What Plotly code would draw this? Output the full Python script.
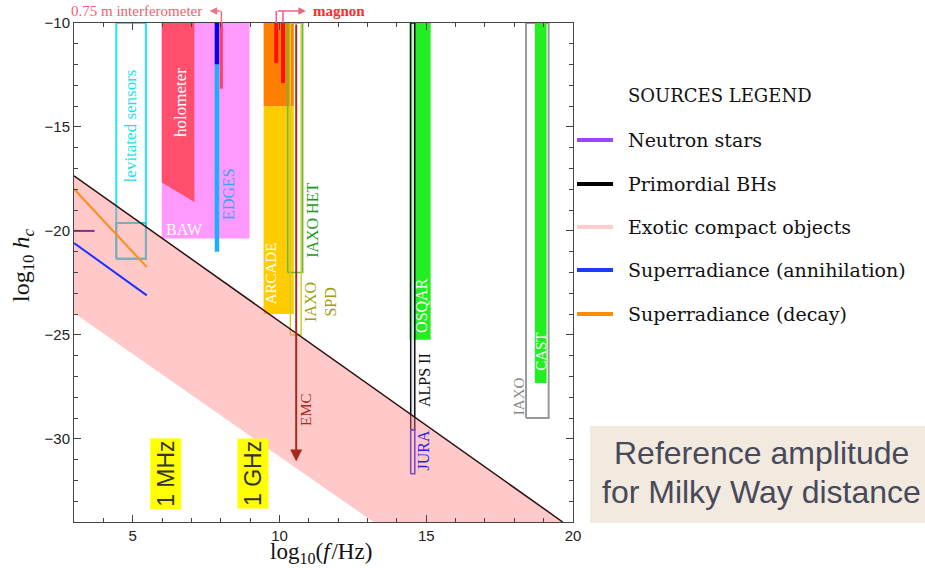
import plotly.graph_objects as go

# ---------------------------------------------------------------- data
# axes: log10(f/Hz) horizontally, log10(h_c) vertically
X_RANGE = [3, 20]
Y_RANGE = [-34, -10]
X_TICKS = [5, 10, 15, 20]
Y_TICKS = [-10, -15, -20, -25, -30]

# exotic compact objects band (upper and lower edges)
band_upper_x = [3.0, 19.65]
band_upper_y = [-17.35, -34.0]
band_lower_x = [3.0, 13.2]
band_lower_y = [-23.95, -34.0]

# source lines
sr_decay_x = [3.0, 5.48]
sr_decay_y = [-17.98, -21.74]
sr_annih_x = [3.0, 5.48]
sr_annih_y = [-20.58, -23.10]
ns_x = [3.0, 3.7]
ns_y = [-20.0, -20.0]

# filled detector regions
filled_names = ["BAW", "ARCADE", "ARCADE high", "OSQAR", "CAST"]
filled_x0 = [5.99, 9.46, 9.46, 14.43, 18.70]
filled_x1 = [8.98, 10.49, 10.49, 15.15, 19.10]
filled_ylo = [-20.37, -24.00, -14.01, -25.23, -27.32]
filled_yhi = [-10.0, -14.01, -10.0, -10.0, -10.0]

# holometer (slanted lower edge)
holo_x = [5.99, 7.10]
holo_ylo = [-17.67, -18.61]
holo_yhi = -10.0

# outlined detector regions
outl_names = ["levitated", "levitated low", "IAXO HET", "IAXO SPD", "ALPS II", "JURA", "IAXO"]
outl_x0 = [4.44, 4.44, 10.28, 10.37, 14.47, 14.47, 18.40]
outl_x1 = [5.45, 5.45, 10.79, 10.74, 14.61, 14.61, 19.17]
outl_ylo = [-21.34, -21.34, -22.00, -25.00, -29.56, -31.68, -29.00]
outl_yhi = [-10.0, -19.62, -10.0, -10.0, -10.0, -29.56, -10.0]

# narrow bars (single frequency)
bar_names = ["EDGES high", "EDGES", "interferometer", "magnon 1", "magnon 2"]
bar_x = [7.87, 7.87, 8.02, 9.89, 10.12]
bar_ylo = [-12.0, -21.0, -13.16, -11.92, -12.89]
bar_yhi = [-10.0, -12.0, -10.0, -10.0, -10.0]

# EMC reach (arrow)
emc_x = 10.57
emc_y = [-10.0, -31.09]

# legend entries
legend_labels = ["Neutron stars", "Primordial BHs", "Exotic compact objects",
                 "Superradiance (annihilation)", "Superradiance (decay)"]

# ---------------------------------------------------------------- layout helpers
W, H = 925, 568
M_L, M_R, M_T, M_B = 74, 352, 23, 46
PW = W - M_L - M_R
PH = H - M_T - M_B


def paper_x(px):
    return (px - M_L) / PW


def paper_y(py):
    return (H - M_B - py) / PH


SERIF = "Liberation Serif"
BOOK = "DejaVu Serif"
SANS = "Liberation Sans"

fig = go.Figure()


def rect(x0, x1, ylo, yhi):
    return [x0, x1, x1, x0, x0], [ylo, ylo, yhi, yhi, ylo]


def add_fill(xs, ys, color):
    fig.add_trace(go.Scatter(x=xs, y=ys, mode="lines", fill="toself",
                             fillcolor=color, line=dict(width=0),
                             hoverinfo="skip", showlegend=False))


def add_outline(xs, ys, color, width=1.5, fill=None):
    fig.add_trace(go.Scatter(x=xs, y=ys, mode="lines",
                             fill="toself" if fill else None,
                             fillcolor=fill, line=dict(color=color, width=width),
                             hoverinfo="skip", showlegend=False))


def add_line(xs, ys, color, width):
    fig.add_trace(go.Scatter(x=xs, y=ys, mode="lines",
                             line=dict(color=color, width=width),
                             hoverinfo="skip", showlegend=False))


fill_color = dict(zip(filled_names, ["#ff99ff", "#ffcc00", "#ff8000", "#22ee22", "#22ee22"]))
outl_color = dict(zip(outl_names, ["#22e5f5", "#22d0e0", "#66bb33", "#cccc33",
                                    "#111111", "#2222ee", "#999999"]))
outl_width = dict(zip(outl_names, [2, 2, 1.5, 1.5, 1.5, 1.5, 2]))
bar_color = dict(zip(bar_names, ["#0000ee", "#1ab0ff", "#ff4060", "#ff1010", "#ff1010"]))
bar_width = dict(zip(bar_names, [4.5, 4.5, 3, 4, 4]))

fi = {n: i for i, n in enumerate(filled_names)}
oi = {n: i for i, n in enumerate(outl_names)}
bi = {n: i for i, n in enumerate(bar_names)}


def draw_fill(n):
    i = fi[n]
    add_fill(*rect(filled_x0[i], filled_x1[i], filled_ylo[i], filled_yhi[i]), fill_color[n])


def draw_outline(n, fill=None):
    i = oi[n]
    add_outline(*rect(outl_x0[i], outl_x1[i], outl_ylo[i], outl_yhi[i]),
                outl_color[n], outl_width[n], fill)


def draw_bar(n):
    i = bi[n]
    add_line([bar_x[i], bar_x[i]], [bar_ylo[i], bar_yhi[i]], bar_color[n], bar_width[n])


# detectors
draw_fill("BAW")
add_fill([holo_x[0], holo_x[1], holo_x[1], holo_x[0], holo_x[0]],
         [holo_ylo[0], holo_ylo[1], holo_yhi, holo_yhi, holo_ylo[0]], "#ff4f6d")
draw_bar("EDGES high")
draw_bar("EDGES")
draw_bar("interferometer")
draw_fill("ARCADE")
draw_fill("ARCADE high")
draw_bar("magnon 1")
draw_bar("magnon 2")
draw_outline("IAXO HET")
draw_outline("IAXO SPD")
draw_fill("OSQAR")
draw_outline("ALPS II", fill="rgba(225,232,245,0.9)")
draw_outline("JURA")
draw_outline("IAXO")
draw_fill("CAST")
draw_outline("levitated")
draw_outline("levitated low")

# exotic compact objects band
add_fill(band_upper_x + band_lower_x[::-1] + band_upper_x[:1],
         band_upper_y + band_lower_y[::-1] + band_upper_y[:1],
         "rgba(255,120,120,0.40)")
add_line(band_upper_x, band_upper_y, "#2a1010", 1.5)

# source lines
add_line(sr_decay_x, sr_decay_y, "#ff8c1a", 2)
add_line(sr_annih_x, sr_annih_y, "#2030ff", 2)
add_line(ns_x, ns_y, "#8a2b8f", 2)

# empty trace carrying the top/right tick axes
fig.add_trace(go.Scatter(x=X_RANGE, y=Y_RANGE, xaxis="x2", yaxis="y2", mode="lines",
                         line=dict(width=0), hoverinfo="skip", showlegend=False))

annotations = []

# EMC arrow
annotations.append(dict(x=emc_x, y=emc_y[1], ax=emc_x, ay=emc_y[0], xref="x", yref="y",
                        axref="x", ayref="y", text="", showarrow=True, arrowhead=2,
                        arrowsize=1.2, arrowwidth=2, arrowcolor="#a8281a"))


def label(text, x, y, color, size=16, angle=-90, **kw):
    d = dict(x=x, y=y, xref="x", yref="y", text=text, showarrow=False,
             xanchor="center", yanchor="middle",
             textangle=angle, font=dict(family=SERIF, size=size, color=color))
    d.update(kw)
    annotations.append(d)


def paper_text(text, px, py, size, color, family=SERIF, **kw):
    d = dict(x=paper_x(px), y=paper_y(py), xref="paper", yref="paper", text=text,
             showarrow=False, xanchor="center", yanchor="middle",
             font=dict(family=family, size=size, color=color))
    d.update(kw)
    annotations.append(d)


label("levitated sensors", 4.91, -14.97, "#22e0f0", 17)
label("holometer", 6.62, -13.83, "white", 17)
label("EDGES", 8.26, -18.2, "#2ea8ff", 16)
label("BAW", 6.08, -19.95, "white", 16, angle=0, xanchor="left")
label("ARCADE", 9.72, -22.03, "white", 15)
label("IAXO HET", 11.12, -19.5, "#1a9a1a", 16)
label("IAXO<br>SPD", 11.39, -23.4, "#a0a010", 16)
label("EMC", 10.88, -28.6, "#a8281a", 15)
label("OSQAR", 14.86, -23.6, "white", 16)
label("ALPS II", 14.96, -27.17, "#111111", 16)
label("JURA", 14.92, -30.57, "#2222ee", 16)
label("CAST", 18.90, -25.83, "white", 15)
label("IAXO", 18.14, -27.93, "#888888", 15)

for txt, fx in [("1 MHz", 6.11), ("1 GHz", 9.08)]:
    annotations.append(dict(x=fx, y=-31.67, xref="x", yref="y", text=txt, showarrow=False,
                            xanchor="center", yanchor="middle",
                            textangle=-90, bgcolor="#ffff00", borderpad=2,
                            font=dict(family=SANS, size=23, color="#333333")))

# annotations above the frame
top_y = paper_y(11)
shapes = []
interf_x = bar_x[bi["interferometer"]]
shapes.append(dict(type="line", xref="x", yref="paper", x0=interf_x, x1=interf_x,
                   y0=1.0, y1=top_y, line=dict(color="#f07080", width=1.5)))
annotations.append(dict(x=7.62, y=top_y, xref="x", yref="paper", ax=interf_x, axref="x",
                        ay=0, ayref="pixel", text="", showarrow=True, arrowhead=2,
                        arrowsize=1, arrowwidth=1.5, arrowcolor="#f07080"))
annotations.append(dict(x=7.42, y=top_y, xref="x", yref="paper", text="0.75 m interferometer",
                        showarrow=False, xanchor="right", yanchor="middle",
                        font=dict(family=SERIF, size=15, color="#f06070")))

m1 = bar_x[bi["magnon 1"]]
m2 = bar_x[bi["magnon 2"]]
for mx in (m1, m2):
    shapes.append(dict(type="line", xref="x", yref="paper", x0=mx, x1=mx,
                       y0=1.0, y1=top_y, line=dict(color="#f06080", width=1.5)))
annotations.append(dict(x=10.9, y=top_y, xref="x", yref="paper", ax=m1, axref="x",
                        ay=0, ayref="pixel", text="", showarrow=True, arrowhead=2,
                        arrowsize=1, arrowwidth=1.5, arrowcolor="#f06080"))
annotations.append(dict(x=11.08, y=top_y, xref="x", yref="paper", text="<b>magnon</b>",
                        showarrow=False, xanchor="left", yanchor="middle",
                        font=dict(family=SERIF, size=15, color="#ff2a2a")))

# axis titles
paper_text("log<sub>10</sub> <i>h</i><sub><i>c</i></sub>", 23, 266, 24, "#111111",
           textangle=-90)
paper_text("log<sub>10</sub>(<i>f</i>&#8202;/Hz)", 321, 553, 23, "#111111")

# legend
paper_text("SOURCES LEGEND", 626, 95, 18, "#111111", family=BOOK, xanchor="left")
legend_colors = ["#9944ff", "#000000", "#ffcccc", "#1a3cff", "#ff8c00"]
legend_py = [140, 184, 227, 270, 314]
for lab, col, py in zip(legend_labels, legend_colors, legend_py):
    shapes.append(dict(type="line", xref="paper", yref="paper", x0=paper_x(577),
                       x1=paper_x(613), y0=paper_y(py), y1=paper_y(py),
                       line=dict(color=col, width=4)))
    paper_text(lab, 626, py, 19, "#111111", family=BOOK, xanchor="left")

# note box
shapes.append(dict(type="rect", xref="paper", yref="paper", x0=paper_x(590), x1=paper_x(930),
                   y0=paper_y(523), y1=paper_y(426), fillcolor="#f2e9df",
                   line=dict(width=0), layer="below"))
paper_text("Reference amplitude", 761, 453, 32, "#474a5a", family=SANS)
paper_text("for Milky Way distance", 761, 491.5, 32, "#474a5a", family=SANS)

tick_font = dict(family=SANS, size=15, color="#222222")
minor = dict(dtick=1, ticks="inside", ticklen=4, tickcolor="#444444")
axis_common = dict(showgrid=False, zeroline=False, showline=True, linecolor="#444444",
                   linewidth=1, mirror=True, ticks="inside", ticklen=7, tickcolor="#444444",
                   tickfont=tick_font, minor=minor)
axis_mirror = dict(showgrid=False, zeroline=False, showline=False, ticks="inside",
                   ticklen=7, tickcolor="#444444", showticklabels=False, minor=minor)

fig.update_layout(
    width=W, height=H,
    margin=dict(l=M_L, r=M_R, t=M_T, b=M_B, pad=0),
    paper_bgcolor="white", plot_bgcolor="white",
    hovermode=False,
    showlegend=False,
    xaxis=dict(range=X_RANGE, tickvals=X_TICKS, **axis_common),
    yaxis=dict(range=Y_RANGE, tickvals=Y_TICKS, **axis_common),
    xaxis2=dict(range=X_RANGE, tickvals=X_TICKS, overlaying="x", side="top",
                anchor="y", **axis_mirror),
    yaxis2=dict(range=Y_RANGE, tickvals=Y_TICKS, overlaying="y", side="right",
                anchor="x", **axis_mirror),
    shapes=shapes,
    annotations=annotations,
)

fig.write_html("out.html")
